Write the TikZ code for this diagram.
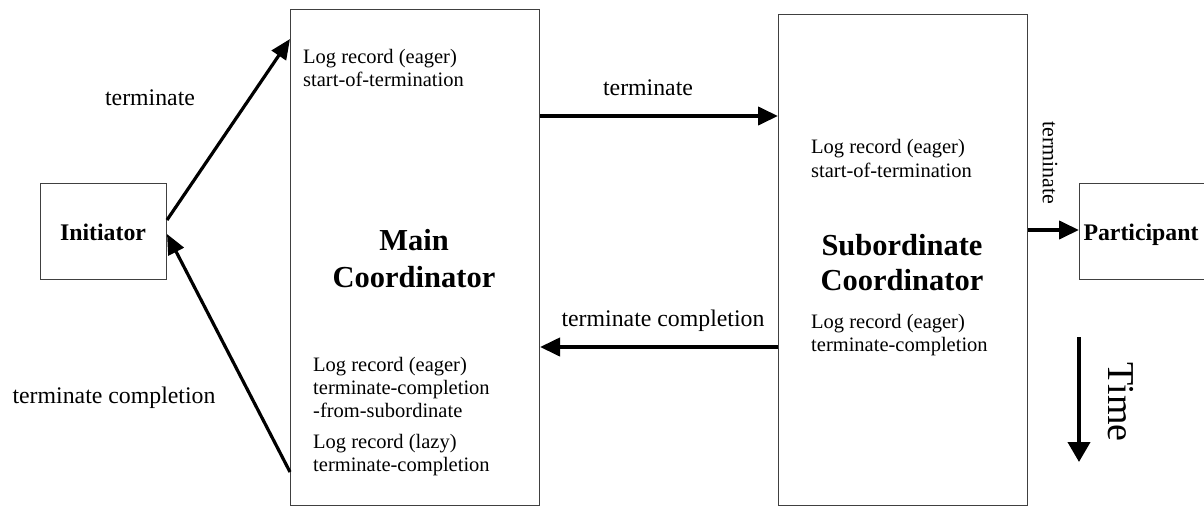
\documentclass[tikz,border=0pt]{standalone}
\usepackage{fontspec}
\setmainfont{Liberation Serif}
\usetikzlibrary{arrows.meta}
\begin{document}
\begin{tikzpicture}[x=1pt,y=-1pt,
  box/.style={draw=black!75,line width=1pt,rectangle,inner sep=0pt,anchor=north west},
  logtxt/.style={anchor=base west,inner sep=0pt,align=left,font=\fontsize{20.5}{23}\selectfont},
  lbl/.style={anchor=base,inner sep=0pt,font=\fontsize{23.8}{27}\selectfont},
  actor/.style={anchor=base,inner sep=0pt,font=\fontsize{23.8}{27}\selectfont\bfseries},
  coord/.style={anchor=base,inner sep=0pt,align=center,font=\fontsize{30.5}{36}\selectfont\bfseries},
  arr/.style={line width=4pt,-{Triangle[length=20pt,width=18pt]}},
  slant/.style={line width=3.2pt,-{Triangle[length=20pt,width=17pt]}}]
\useasboundingbox (0,0) rectangle (1204,506);

% boxes
\node[box,minimum width=126pt,minimum height=96pt] (init) at (40,183) {};
\node[box,minimum width=249pt,minimum height=496pt] (main) at (290,9) {};
\node[box,minimum width=249pt,minimum height=491pt] (sub) at (778,14) {};
\node[box,minimum width=124.5pt,minimum height=96pt] (part) at (1079,183) {};

% box titles
\node[actor] (initT) at (103,240) {Initiator};
\node[actor] (partT) at (1141,240) {Participant};
\node[coord] (mainT1) at (414,250) {Main};
\node[coord] (mainT2) at (414,287) {Coordinator};
\node[coord] (subT1) at (902,255) {Subordinate};
\node[coord] (subT2) at (902,290) {Coordinator};

% log records
\node[logtxt] (m1a) at (303,63) {Log record (eager)};
\node[logtxt] (m1b) at (303,86) {start-of-termination};
\node[logtxt] (m2a) at (313,371) {Log record (eager)};
\node[logtxt] (m2b) at (313,394) {terminate-completion};
\node[logtxt] (m2c) at (313,417) {-from-subordinate};
\node[logtxt] (m3a) at (313,448) {Log record (lazy)};
\node[logtxt] (m3b) at (313,471) {terminate-completion};
\node[logtxt] (s1a) at (811,153) {Log record (eager)};
\node[logtxt] (s1b) at (811,177) {start-of-termination};
\node[logtxt] (s2a) at (811,328) {Log record (eager)};
\node[logtxt] (s2b) at (811,351) {terminate-completion};

% message labels
\node[lbl] (l1) at (150,105) {terminate};
\node[lbl] (l2) at (114,403) {terminate completion};
\node[lbl] (l3) at (648,95) {terminate};
\node[lbl] (l4) at (663,326) {terminate completion};
\node[inner sep=0pt,rotate=-90,font=\fontsize{22}{26}\selectfont] (l5) at (1050,163) {terminate};

% messages
\draw[slant] (init.east |- 0,220) -- (main.west |- 0,39);
\draw[slant] (main.west |- 0,472) -- (init.east |- 0,234);
\draw[arr] (main.east |- 0,116) -- (sub.west |- 0,116);
\draw[arr] (sub.west |- 0,347) -- (main.east |- 0,347);
\draw[arr] (sub.east |- 0,230) -- (part.west |- 0,230);

% time axis
\coordinate (t0) at (1079,337);
\coordinate (t1) at (1079,462);
\draw[arr,-{Triangle[length=20pt,width=22pt]}] (t0) -- (t1);
\node[inner sep=0pt,rotate=-90,font=\fontsize{38}{44}\selectfont] (time) at (1121,402) {Time};
\end{tikzpicture}
\end{document}
